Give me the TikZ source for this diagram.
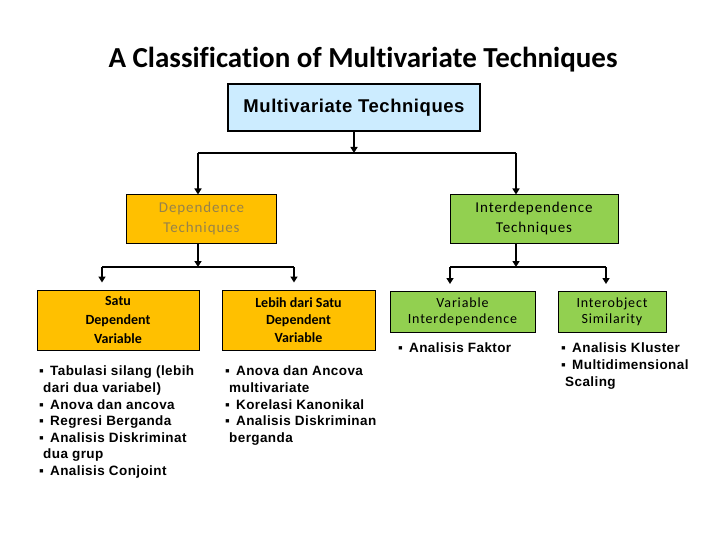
\documentclass[tikz,border=0pt]{standalone}
\usepackage{fontspec}
\setmainfont[Ligatures=NoCommon]{Carlito}
\newfontfamily\boxfont[LetterSpace=6]{Carlito}
\newfontfamily\listfont[LetterSpace=3]{Liberation Sans}
\usetikzlibrary{arrows.meta}

\definecolor{topblue}{RGB}{204,236,255}
\definecolor{depgold}{RGB}{255,192,0}
\definecolor{intgreen}{RGB}{146,208,80}
\definecolor{deptext}{RGB}{150,130,75}

\newcommand{\bl}{\makebox[11pt][l]{▪}}
\newcommand{\cont}{\hspace*{4pt}}

\tikzset{
  box/.style={draw=black, line width=1pt, inner sep=0pt, align=center},
  tree/.style={line width=1.5pt},
  arr/.style={line width=1.5pt, -{Triangle[length=6pt,width=7pt]}},
  items/.style={anchor=north west, inner sep=0pt, align=left,
    font=\listfont\bfseries\fontsize{13.5}{16.6}\selectfont},
}

\begin{document}
\begin{tikzpicture}[x=1pt,y=-1pt]
  \useasboundingbox (0,0) rectangle (720,540);

  % title
  \node (title) at (363,60) {\fontsize{29}{34}\selectfont\bfseries A Classification of Multivariate Techniques};

  % first level
  \node[box, line width=2pt, fill=topblue, minimum width=252pt, minimum height=47pt,
    font=\listfont\bfseries\fontsize{18.5}{22}\selectfont] (top) at (354,107.5) {Multivariate Techniques};
  \node[box, fill=depgold, text=deptext, minimum width=150pt, minimum height=48pt,
    font=\boxfont\fontsize{15}{20}\selectfont] (dep) at (201.5,219) {Dependence\\Techniques};
  \node[box, fill=intgreen, minimum width=168pt, minimum height=48pt,
    font=\boxfont\fontsize{15}{20}\selectfont] (int) at (534,219) {Interdependence\\Techniques};

  % second level
  \node[box, fill=depgold, minimum width=162pt, minimum height=60pt,
    font=\bfseries\fontsize{14}{19}\selectfont] (satu) at (118,320) {Satu\\Dependent\\Variable};
  \node[box, fill=depgold, minimum width=153pt, minimum height=60pt,
    font=\bfseries\fontsize{14}{17.5}\selectfont] (lebih) at (298.5,320) {Lebih dari Satu\\Dependent\\Variable};
  \node[box, fill=intgreen, minimum width=145pt, minimum height=41pt,
    font=\boxfont\fontsize{14}{16}\selectfont] (varint) at (462.5,312) {Variable\\Interdependence};
  \node[box, fill=intgreen, minimum width=108pt, minimum height=41pt,
    font=\boxfont\fontsize{14}{16}\selectfont] (objsim) at (612,312) {Interobject\\Similarity};

  % connectors
  \coordinate (j0) at (354,153);
  \coordinate (jdep) at (198,153);
  \coordinate (jint) at (516,153);
  \draw[arr] (top.south) -- (j0);
  \draw[tree] (jdep) -- (jint);
  \draw[arr] (jdep) -- (jdep |- dep.north);
  \draw[arr] (jint) -- (jint |- int.north);

  \coordinate (jd0) at (198,267);
  \coordinate (jsatu) at (102,267);
  \coordinate (jlebih) at (294,267);
  \draw[arr] (dep.south -| jd0) -- (jd0);
  \draw[tree] (jsatu) -- (jlebih);
  \draw[arr] (jsatu) -- ([yshift=7pt]jsatu |- satu.north);
  \draw[arr] (jlebih) -- ([yshift=7pt]jlebih |- lebih.north);

  \coordinate (ji0) at (516,267);
  \coordinate (jvar) at (450,267);
  \coordinate (jobj) at (606,267);
  \draw[arr] (int.south -| ji0) -- (ji0);
  \draw[tree] (jvar) -- (jobj);
  \draw[arr] (jvar) -- ([yshift=7pt]jvar |- varint.north);
  \draw[arr] (jobj) -- ([yshift=7pt]jobj |- objsim.north);

  % lists
  \node[items] (listsatu) at (39,366) {\bl Tabulasi silang (lebih\\
    \cont dari dua variabel)\\
    \bl Anova dan ancova\\
    \bl Regresi Berganda\\
    \bl Analisis Diskriminat\\
    \cont dua grup\\
    \bl Analisis Conjoint};
  \node[items] (listlebih) at (225,366) {\bl Anova dan Ancova\\
    \cont multivariate\\
    \bl Korelasi Kanonikal\\
    \bl Analisis Diskriminan\\
    \cont berganda};
  \node[items] (listvar) at (398,343) {\bl Analisis Faktor};
  \node[items] (listobj) at (561,343) {\bl Analisis Kluster\\
    \bl Multidimensional\\
    \cont Scaling};
\end{tikzpicture}
\end{document}
